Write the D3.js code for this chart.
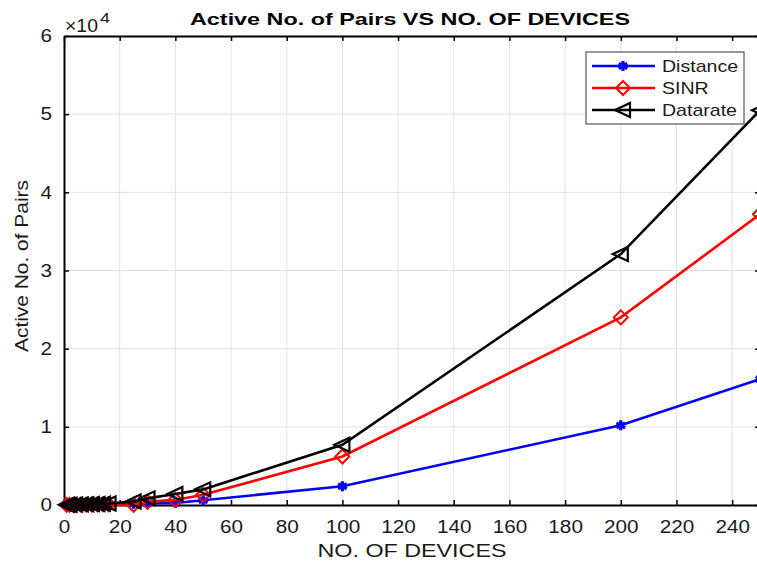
<!DOCTYPE html>
<html><head><meta charset="utf-8">
<script src="https://cdn.jsdelivr.net/npm/d3@7"></script>
<style>body{margin:0;background:#fff}svg{display:block}text{font-family:Arial,"Liberation Sans",sans-serif}</style>
</head><body><svg id="c" width="757" height="563"></svg>
<script>
const devices = [1,2,4,6,8,10,12,14,16,25,30,40,50,100,200,250];
const distance = [5,10,15,20,25,30,35,40,45,150,200,250,600,2400,10200,16100];
const sinr = [10,20,30,40,50,60,70,80,90,30,400,650,1300,6200,24000,37200];
const datarate = [20,40,60,80,100,120,140,160,180,450,850,1400,2000,7700,32100,50500];
const xTicks = [0,20,40,60,80,100,120,140,160,180,200,220,240];
const yTicks = [0,1,2,3,4,5,6];
const seriesNames = ["Distance","SINR","Datarate"];
const seriesColors = ["#0000ff","#ff0000","#000000"];

const svg = d3.select("#c");
const L=64, T=36, R=760, B=505;
const x = d3.scaleLinear().domain([0,250]).range([L,R]);
const y = d3.scaleLinear().domain([0,6e4]).range([B,T]);

function stretch(sel, f){
  sel.each(function(){
    const len = this.getComputedTextLength();
    d3.select(this).attr("textLength", len*f).attr("lengthAdjust","spacingAndGlyphs");
  });
}

// grid
svg.append("g").selectAll("line").data(xTicks.slice(1)).join("line")
  .attr("x1",d=>x(d)).attr("x2",d=>x(d)).attr("y1",T).attr("y2",B)
  .attr("stroke","#e3e3e3").attr("stroke-width",1);
svg.append("g").selectAll("line").data(yTicks.slice(1,-1)).join("line")
  .attr("x1",L).attr("x2",R).attr("y1",d=>y(d*1e4)).attr("y2",d=>y(d*1e4))
  .attr("stroke","#e3e3e3").attr("stroke-width",1);

// axes
const xa = svg.append("g").attr("transform",`translate(0,${B})`)
  .call(d3.axisBottom(x).tickValues(xTicks).tickSizeInner(-5).tickSizeOuter(0).tickPadding(15));
const xt = svg.append("g").attr("transform",`translate(0,${T})`)
  .call(d3.axisTop(x).tickValues(xTicks).tickSizeInner(-5).tickSizeOuter(0).tickFormat(""));
const ya = svg.append("g").attr("transform",`translate(${L},0)`)
  .call(d3.axisLeft(y).tickValues(yTicks.map(d=>d*1e4)).tickFormat(d=>d/1e4).tickSizeInner(-5).tickSizeOuter(0).tickPadding(12));
const yr = svg.append("g").attr("transform",`translate(${R},0)`)
  .call(d3.axisRight(y).tickValues(yTicks.map(d=>d*1e4)).tickSizeInner(-5).tickSizeOuter(0).tickFormat(""));
[xa,xt,ya,yr].forEach(g=>{
  g.select(".domain").attr("stroke","#000").attr("stroke-width",2);
  g.selectAll(".tick line").attr("stroke","#000").attr("stroke-width",1.5);
  g.selectAll("text").attr("font-size",18).attr("fill","#1a1a1a");
});
stretch(xa.selectAll("text"),1.15);
stretch(ya.selectAll("text"),1.15);

// series
const data = [distance,sinr,datarate];
const line = d3.line().x(d=>x(d[0])).y(d=>y(d[1]));
function marker(g, i, cx, cy){
  const c = seriesColors[i];
  if(i===0){
    g.append("path").attr("d",d3.symbol(d3.symbolAsterisk,70)()).attr("transform",`translate(${cx},${cy})`)
      .attr("stroke",c).attr("stroke-width",3.2).attr("fill","none");
  } else if(i===1){
    g.append("path").attr("d",`M0,-7L7,0L0,7L-7,0Z`).attr("transform",`translate(${cx},${cy})`)
      .attr("stroke",c).attr("stroke-width",2).attr("fill","none");
  } else {
    g.append("path").attr("d",`M-8,0L7,-7L7,7Z`).attr("transform",`translate(${cx},${cy})`)
      .attr("stroke",c).attr("stroke-width",2.2).attr("fill","none");
  }
}
data.forEach((vals,i)=>{
  const pts = devices.map((d,k)=>[d,vals[k]]);
  const g = svg.append("g");
  g.append("path").attr("d",line(pts)).attr("fill","none").attr("stroke",seriesColors[i]).attr("stroke-width",2.6);
  pts.forEach(p=>marker(g,i,x(p[0]),y(p[1])));
});

// legend
const lg = svg.append("g");
lg.append("rect").attr("x",586).attr("y",52).attr("width",158).attr("height",72)
  .attr("fill","#fff").attr("stroke","#333").attr("stroke-width",1);
seriesNames.forEach((n,i)=>{
  const yy = 66 + i*22;
  lg.append("line").attr("x1",592).attr("x2",655).attr("y1",yy).attr("y2",yy)
    .attr("stroke",seriesColors[i]).attr("stroke-width",2.5);
  marker(lg,i,623,yy);
  const t = lg.append("text").attr("x",662).attr("y",yy+6).attr("font-size",17).attr("fill","#1a1a1a").text(n);
  stretch(t,1.15);
});

// labels
const title = svg.append("text").attr("x",410).attr("y",25).attr("text-anchor","middle")
  .attr("font-size",17).attr("font-weight","bold").attr("fill","#000").text("Active No. of Pairs VS NO. OF DEVICES");
title.attr("textLength",440).attr("lengthAdjust","spacingAndGlyphs");
const xl = svg.append("text").attr("x",412).attr("y",557).attr("text-anchor","middle")
  .attr("font-size",18).attr("fill","#1a1a1a").text("NO. OF DEVICES");
xl.attr("textLength",189).attr("lengthAdjust","spacingAndGlyphs");
const yl = svg.append("text").attr("transform","translate(28,266) rotate(-90)").attr("text-anchor","middle")
  .attr("font-size",18).attr("fill","#1a1a1a").text("Active No. of Pairs");
yl.attr("textLength",172).attr("lengthAdjust","spacingAndGlyphs");
svg.append("text").attr("x",65).attr("y",32).attr("font-size",18).attr("fill","#1a1a1a")
  .text("×10").attr("textLength",33).attr("lengthAdjust","spacingAndGlyphs");
svg.append("text").attr("x",100).attr("y",23).attr("font-size",14).attr("fill","#1a1a1a")
  .text("4").attr("textLength",10).attr("lengthAdjust","spacingAndGlyphs");
</script></body></html>
